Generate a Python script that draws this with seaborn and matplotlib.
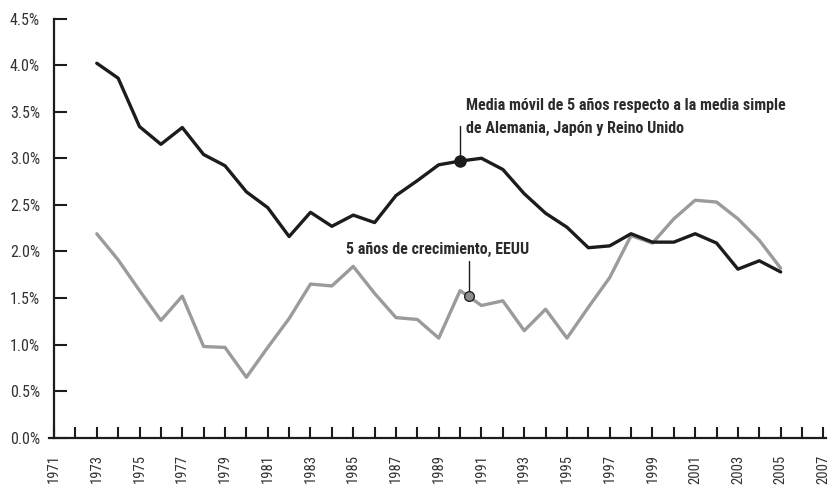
import matplotlib
matplotlib.use("Agg")
import matplotlib.pyplot as plt
from matplotlib import font_manager
import pandas as pd
import seaborn as sns
from matplotlib.ticker import FuncFormatter, MultipleLocator

# Datos
anios = list(range(1973, 2006))

media_movil = [
    4.02, 3.86, 3.34, 3.15, 3.33, 3.04, 2.92, 2.64, 2.47, 2.16,
    2.42, 2.27, 2.39, 2.31, 2.60, 2.76, 2.93, 2.97, 3.00, 2.88,
    2.62, 2.41, 2.26, 2.04, 2.06, 2.19, 2.10, 2.10, 2.19, 2.09,
    1.81, 1.90, 1.78,
]

eeuu = [
    2.19, 1.91, 1.58, 1.26, 1.52, 0.98, 0.97, 0.65, 0.97, 1.28,
    1.65, 1.63, 1.84, 1.55, 1.29, 1.27, 1.07, 1.58, 1.42, 1.47,
    1.15, 1.38, 1.07, 1.40, 1.72, 2.17, 2.09, 2.35, 2.55, 2.53,
    2.35, 2.12, 1.82,
]

etiqueta_media_1 = "Media móvil de 5 años respecto a la media simple"
etiqueta_media_2 = "de Alemania, Japón y Reino Unido"
etiqueta_eeuu = "5 años de crecimiento, EEUU"

# marcadores de las etiquetas (anio, valor)
punto_media = (1990.0, 2.97)
punto_eeuu = (1990.4, 1.52)

df = pd.DataFrame({
    "anio": anios * 2,
    "valor": media_movil + eeuu,
    "serie": ["media"] * len(anios) + ["eeuu"] * len(anios),
})

sns.set_theme(style="white")

# buscar una fuente estrecha instalada
nombres = {f.name for f in font_manager.fontManager.ttflist}
familia = "DejaVu Sans"
for candidata in ["Roboto Condensed", "Liberation Sans Narrow", "Open Sans Condensed"]:
    if candidata in nombres:
        familia = candidata
        break

plt.rcParams["font.family"] = [familia, "DejaVu Sans"]

negro = "#1c1c1c"
gris = "#9b9b9b"
texto = "#2b2b2b"

fig = plt.figure(figsize=(8.35, 4.87), dpi=100)
ax = fig.add_axes([0.0647, 0.101, 0.924, 0.861])

sns.lineplot(
    data=df,
    x="anio",
    y="valor",
    hue="serie",
    palette={"media": negro, "eeuu": gris},
    hue_order=["eeuu", "media"],
    linewidth=2.4,
    legend=False,
    ax=ax,
)

# anotaciones
ax.plot([punto_media[0]], [punto_media[1]], "o", color=negro, markersize=8, zorder=5)
ax.plot([punto_media[0], punto_media[0]], [punto_media[1], 3.35], color=negro, lw=1)
ax.text(1990.26, 3.57, etiqueta_media_1, fontsize=11.5, fontweight="bold",
        color=texto, va="center", ha="left")
ax.text(1990.26, 3.32, etiqueta_media_2, fontsize=11.5, fontweight="bold",
        color=texto, va="center", ha="left")

ax.plot([punto_eeuu[0]], [punto_eeuu[1]], "o", color="#8c8c8c",
        markeredgecolor="#222222", markeredgewidth=1, markersize=7, zorder=5)
ax.plot([punto_eeuu[0], punto_eeuu[0]], [punto_eeuu[1], 1.90], color=negro, lw=1)
ax.text(1988.93, 2.02, etiqueta_eeuu, fontsize=11.5, fontweight="bold",
        color=texto, va="center", ha="center")

ax.set_xlim(1971, 2007.1)
ax.set_ylim(0, 4.5)
ax.set_xticks(list(range(1971, 2008, 2)))
ax.xaxis.set_minor_locator(MultipleLocator(1))
ax.yaxis.set_major_locator(MultipleLocator(0.5))
ax.yaxis.set_major_formatter(FuncFormatter(lambda v, p: f"{v:.1f}%"))
ax.xaxis.set_major_formatter(FuncFormatter(lambda v, p: f"{int(v)}"))

ax.tick_params(axis="x", which="both", bottom=True, direction="in", length=8,
               width=1.5, color=negro)
ax.tick_params(axis="x", which="major", labelsize=10.5, labelcolor="#333333",
               rotation=90, pad=12)
ax.tick_params(axis="y", left=True, direction="in", length=9, width=1.5,
               color=negro, labelsize=11.5, labelcolor="#333333", pad=10)
ax.set_xlabel("")
ax.set_ylabel("")

for lado in ["top", "right"]:
    ax.spines[lado].set_visible(False)
for lado in ["left", "bottom"]:
    ax.spines[lado].set_color(negro)
    ax.spines[lado].set_linewidth(1.6)
ax.spines["bottom"].set_bounds(1970.75, 2007.1)
ax.grid(False)

fig.savefig("out.png", dpi=100)
